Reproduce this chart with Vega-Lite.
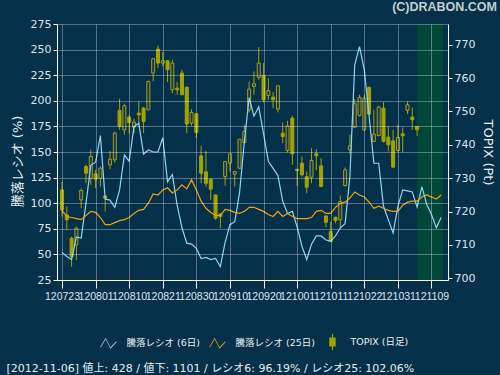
{
  "$schema": "https://vega.github.io/schema/vega-lite/v6.json",
  "width": 391,
  "height": 256,
  "autosize": {"type": "none"},
  "padding": {"left": 57, "top": 24, "right": 52, "bottom": 95},
  "background": "#04304a",
  "title": {"text": "(C)DRABON.COM", "anchor": "end", "orient": "top", "frame": "group", "dx": 49, "dy": 10, "offset": 5, "baseline": "alphabetic", "font": "Liberation Sans", "fontSize": 12.5, "fontWeight": "bold", "color": "#c4ccd0"},
  "config": {
    "view": {"fill": "#1a3562", "stroke": null},
    "font": "DejaVu Sans, Noto Sans CJK JP",
    "axis": {
      "labelFont": "DejaVu Sans, Noto Sans CJK JP",
      "titleFont": "DejaVu Sans, Noto Sans CJK JP",
      "labelFontSize": 11,
      "labelColor": "#dde6ee",
      "domainColor": "#ffffff",
      "tickColor": "#ffffff",
      "gridColor": "#ffffff",
      "gridOpacity": 0.32,
      "titleColor": "#e6ecf0",
      "titleFontWeight": "normal",
      "titleFontSize": 13
    },
    "axisX": {"labelOverlap": false, "labelFlush": false}
  },
  "datasets": {
    "zone": [{"a": 74, "b": 79.4}],
    "legend": [{"s": "騰落レシオ (6日)"}, {"s": "騰落レシオ (25日)"}, {"s": "TOPIX (日足)"}],
    "ratio": [
      {"i":0,"r6":52,"r25":93},{"i":1,"r6":48,"r25":87},{"i":2,"r6":45,"r25":86},{"i":3,"r6":67,"r25":85},{"i":4,"r6":66,"r25":84},
      {"i":5,"r6":100,"r25":88},{"i":6,"r6":137,"r25":92},{"i":7,"r6":140,"r25":91},{"i":8,"r6":166,"r25":86},{"i":9,"r6":104,"r25":79},
      {"i":10,"r6":103,"r25":79},{"i":11,"r6":96,"r25":81},{"i":12,"r6":113,"r25":83},{"i":13,"r6":147,"r25":84},{"i":14,"r6":141,"r25":86},
      {"i":15,"r6":175,"r25":90},{"i":16,"r6":178,"r25":93},{"i":17,"r6":148,"r25":94},{"i":18,"r6":152,"r25":100},{"i":19,"r6":150,"r25":109},
      {"i":20,"r6":150,"r25":108},{"i":21,"r6":164,"r25":113},{"i":22,"r6":121,"r25":115},{"i":23,"r6":128,"r25":110},{"i":24,"r6":98,"r25":113},
      {"i":25,"r6":76,"r25":118},{"i":26,"r6":61,"r25":114},{"i":27,"r6":60,"r25":123},{"i":28,"r6":56,"r25":113},{"i":29,"r6":46,"r25":102},
      {"i":30,"r6":47,"r25":95},{"i":31,"r6":45,"r25":91},{"i":32,"r6":46,"r25":88},{"i":33,"r6":38,"r25":88},{"i":34,"r6":62,"r25":94},
      {"i":35,"r6":79,"r25":93},{"i":36,"r6":82,"r25":91},{"i":37,"r6":110,"r25":90},{"i":38,"r6":160,"r25":92},{"i":39,"r6":203,"r25":96},
      {"i":40,"r6":185,"r25":96},{"i":41,"r6":194,"r25":94},{"i":42,"r6":168,"r25":92},{"i":43,"r6":141,"r25":89},{"i":44,"r6":134,"r25":87},
      {"i":45,"r6":127,"r25":92},{"i":46,"r6":102,"r25":87},{"i":47,"r6":90,"r25":90},{"i":48,"r6":92,"r25":87},{"i":49,"r6":77,"r25":85},
      {"i":50,"r6":58,"r25":85},{"i":51,"r6":45,"r25":85},{"i":52,"r6":60,"r25":86},{"i":53,"r6":68,"r25":92},{"i":54,"r6":68,"r25":93},
      {"i":55,"r6":64,"r25":90},{"i":56,"r6":63,"r25":90},{"i":57,"r6":68,"r25":96},{"i":58,"r6":76,"r25":100},{"i":59,"r6":80,"r25":101},
      {"i":60,"r6":126,"r25":105},{"i":61,"r6":235,"r25":111},{"i":62,"r6":253,"r25":108},{"i":63,"r6":230,"r25":106},{"i":64,"r6":185,"r25":101},
      {"i":65,"r6":139,"r25":95},{"i":66,"r6":139,"r25":97},{"i":67,"r6":97,"r25":95},{"i":68,"r6":84,"r25":93},{"i":69,"r6":71,"r25":92},
      {"i":70,"r6":97,"r25":92},{"i":71,"r6":113,"r25":98},{"i":72,"r6":112,"r25":101},{"i":73,"r6":111,"r25":102},{"i":74,"r6":96.19,"r25":102.06},
      {"i":75,"r6":116,"r25":106},{"i":76,"r6":99,"r25":108},{"i":77,"r6":89,"r25":106},{"i":78,"r6":76,"r25":104},{"i":79,"r6":86,"r25":108}
    ],
    "candles": [
      {"i":0,"o":726.5,"h":729,"l":718.5,"c":720.5},{"i":1,"o":719,"h":721.5,"l":714.5,"c":717.5},{"i":2,"o":712,"h":712.5,"l":703.5,"c":706.5},
      {"i":3,"o":710,"h":715.5,"l":705.5,"c":715},{"i":4,"o":723.5,"h":727,"l":721,"c":726.3},{"i":5,"o":733.5,"h":734,"l":728.5,"c":731.5},
      {"i":6,"o":730,"h":738.5,"l":728,"c":736.5},{"i":7,"o":731.3,"h":732.5,"l":727,"c":729.7},{"i":8,"o":730,"h":733.5,"l":727.5,"c":733},
      {"i":9,"o":724.7,"h":724.7,"l":720,"c":724},{"i":10,"o":734,"h":738.2,"l":732.7,"c":735.7},{"i":11,"o":735.5,"h":744,"l":734.7,"c":743.5},
      {"i":12,"o":750.3,"h":753.8,"l":744.5,"c":745.5},{"i":13,"o":744.5,"h":752.3,"l":743,"c":751.7},{"i":14,"o":748.3,"h":749,"l":743.5,"c":746.7},
      {"i":15,"o":745.3,"h":747.8,"l":743.5,"c":746.8},{"i":16,"o":749.5,"h":753,"l":746.5,"c":749},{"i":17,"o":751,"h":751.3,"l":743.5,"c":747},
      {"i":18,"o":750.5,"h":759.2,"l":750.3,"c":759},{"i":19,"o":761.5,"h":766,"l":759,"c":765.8},{"i":20,"o":768.7,"h":769.7,"l":763,"c":764.5},
      {"i":21,"o":764.5,"h":767.8,"l":763.5,"c":765.2},{"i":22,"o":765.2,"h":765.3,"l":758.8,"c":762.5},{"i":23,"o":756.5,"h":765.5,"l":755.5,"c":764.5},
      {"i":24,"o":757,"h":758.8,"l":755,"c":756.5},{"i":25,"o":761.5,"h":762.5,"l":755,"c":755},{"i":26,"o":757.3,"h":757.3,"l":743.5,"c":746.2},
      {"i":27,"o":746.5,"h":750.7,"l":745.7,"c":749.7},{"i":28,"o":749.3,"h":749.3,"l":742,"c":743.7},{"i":29,"o":736.7,"h":739.7,"l":728.5,"c":731.5},
      {"i":30,"o":731.9,"h":738.2,"l":727.5,"c":728.5},{"i":31,"o":729.7,"h":729.7,"l":723.5,"c":726.7},{"i":32,"o":725,"h":725,"l":717.5,"c":718},
      {"i":33,"o":719.3,"h":719.5,"l":715,"c":718.5},{"i":34,"o":730.5,"h":735,"l":727.8,"c":735},{"i":35,"o":734.5,"h":737.3,"l":732,"c":737.3},
      {"i":36,"o":731.2,"h":732,"l":727.5,"c":732},{"i":37,"o":733,"h":741.7,"l":732.7,"c":741.7},{"i":38,"o":740.7,"h":746,"l":740.5,"c":744},
      {"i":39,"o":750.5,"h":759,"l":749.7,"c":756.7},{"i":40,"o":757.5,"h":762,"l":755,"c":758.3},{"i":41,"o":760.2,"h":769.3,"l":759.5,"c":764.5},
      {"i":42,"o":760.7,"h":764.5,"l":752.7,"c":753.5},{"i":43,"o":754.8,"h":760,"l":753.5,"c":756.2},{"i":44,"o":754.3,"h":755.8,"l":751,"c":753.5},
      {"i":45,"o":750.7,"h":757.7,"l":749.7,"c":757.7},{"i":46,"o":743.5,"h":746.7,"l":740.5,"c":742.5},{"i":47,"o":738.3,"h":747.2,"l":737.7,"c":745.7},
      {"i":48,"o":748,"h":748.7,"l":734,"c":737.3},{"i":49,"o":732.7,"h":732.7,"l":727.7,"c":732.3},{"i":50,"o":734.5,"h":736.5,"l":730.5,"c":731},
      {"i":51,"o":730.5,"h":732,"l":725.5,"c":727.3},{"i":52,"o":730.3,"h":739,"l":728.5,"c":735.3},{"i":53,"o":737.3,"h":738.7,"l":732.5,"c":736.7},
      {"i":54,"o":733.7,"h":736,"l":727.3,"c":727.5},{"i":55,"o":718.7,"h":718.7,"l":715.3,"c":716.8},{"i":56,"o":714,"h":717,"l":711,"c":711},
      {"i":57,"o":718.3,"h":718.5,"l":716.5,"c":717.3},{"i":58,"o":717.5,"h":724.8,"l":715,"c":723},{"i":59,"o":727.8,"h":733.2,"l":727.5,"c":732.5},
      {"i":60,"o":738.5,"h":743,"l":737.3,"c":739.7},{"i":61,"o":745.3,"h":753.7,"l":745,"c":752.3},{"i":62,"o":748.8,"h":755,"l":748.5,"c":754.2},
      {"i":63,"o":744.5,"h":755,"l":744,"c":754},{"i":64,"o":757.2,"h":757.5,"l":749,"c":749.2},{"i":65,"o":741,"h":750.5,"l":741,"c":743.2},
      {"i":66,"o":742.8,"h":751.7,"l":742.5,"c":751.3},{"i":67,"o":751,"h":752.8,"l":740.7,"c":741},{"i":68,"o":742.3,"h":745.5,"l":738,"c":740},
      {"i":69,"o":741.2,"h":744.5,"l":733.3,"c":733.3},{"i":70,"o":738.3,"h":746,"l":738,"c":742.2},{"i":71,"o":743.3,"h":745.2,"l":737.7,"c":742.7},
      {"i":72,"o":750.3,"h":753,"l":749.3,"c":752},{"i":73,"o":748.3,"h":751.2,"l":744.5,"c":747.5},{"i":74,"o":745.5,"h":745.5,"l":742.7,"c":744.5}
    ]
  },
  "layer": [
    {
      "data": {"name": "zone"},
      "mark": {"type": "rect", "color": "#00473a"},
      "encoding": {
        "x": {"field": "a", "type": "quantitative", "scale": {"domain": [0, 79.4], "nice": false, "zero": false},
          "axis": {
            "values": [0, 7, 14, 21, 28, 35, 42, 49, 56, 63, 70, 77], "tickCount": 30,
            "labelExpr": "['120723','120801','120810','120821','120830','120910','120920','121001','121011','121022','121031','121109'][round(datum.value/7)]",
            "grid": true, "zindex": 1, "tickSize": 8, "labelPadding": 3, "labelFont": "Liberation Sans", "labelFontSize": 10.5, "labelFlush": false, "labelOverlap": false,
            "title": "[2012-11-06]  値上: 428 / 値下: 1101 / レシオ6: 96.19% / レシオ25: 102.06%",
            "titleX": -51, "titleY": 91, "titleAlign": "left", "titleBaseline": "alphabetic", "titleFontSize": 11, "titleColor": "#e6ecf0"
          }
        },
        "x2": {"field": "b"}
      }
    },
    {
      "data": {"name": "candles"},
      "layer": [
        {
          "mark": {"type": "rule", "color": "#a3a300", "strokeWidth": 1},
          "encoding": {
            "x": {"field": "i", "type": "quantitative", "scale": {"domain": [0, 79.4], "nice": false, "zero": false}},
            "y": {"field": "l", "type": "quantitative", "scale": {"domain": [699.5, 776.2], "nice": false, "zero": false},
              "axis": {"orient": "right", "values": [700, 710, 720, 730, 740, 750, 760, 770], "tickCount": 30, "grid": false, "tickSize": 4, "labelPadding": 2,
                "title": "TOPIX (Pt)", "titleAngle": 90, "titleX": 39, "titleY": 128, "titleAlign": "center", "titleBaseline": "middle"}},
            "y2": {"field": "h"}
          }
        },
        {
          "mark": {"type": "bar", "size": 3, "stroke": "#a3a300", "strokeWidth": 1},
          "encoding": {
            "x": {"field": "i", "type": "quantitative", "scale": {"domain": [0, 79.4], "nice": false, "zero": false}},
            "y": {"field": "o", "type": "quantitative"},
            "y2": {"field": "c"},
            "fill": {"condition": {"test": "datum.c > datum.o", "value": "#1a3562"}, "value": "#a3a300"}
          }
        }
      ]
    },
    {
      "data": {"name": "ratio"},
      "layer": [
        {
          "mark": {"type": "line", "color": "#8fd3f4", "strokeWidth": 1.2},
          "encoding": {
            "x": {"field": "i", "type": "quantitative", "scale": {"domain": [0, 79.4], "nice": false, "zero": false}},
            "y": {"field": "r6", "type": "quantitative", "scale": {"domain": [25, 275], "nice": false, "zero": false},
              "axis": {"orient": "left", "values": [25, 50, 75, 100, 125, 150, 175, 200, 225, 250, 275], "tickCount": 30, "grid": true, "zindex": 1, "tickSize": 4, "labelPadding": 2,
                "title": "騰落レシオ (%)", "titleAngle": -90, "titleX": -40, "titleY": 137, "titleAlign": "center", "titleBaseline": "middle"}}
          }
        },
        {
          "mark": {"type": "line", "color": "#f5a20a", "strokeWidth": 1.2},
          "encoding": {
            "x": {"field": "i", "type": "quantitative", "scale": {"domain": [0, 79.4], "nice": false, "zero": false}},
            "y": {"field": "r25", "type": "quantitative"}
          }
        },
        {
          "data": {"name": "legend"},
          "mark": {"type": "point", "filled": true, "opacity": 0},
          "encoding": {
            "color": {"field": "s", "type": "nominal",
              "scale": {"domain": ["騰落レシオ (6日)", "騰落レシオ (25日)", "TOPIX (日足)"], "range": ["#8fd3f4", "#f5a20a", "#a3a300"]},
              "legend": {"title": null, "orient": "none", "legendX": 43.5, "legendY": 310, "direction": "horizontal", "labelFontSize": 9.5, "labelColor": "#e8eef2", "labelFont": "DejaVu Sans, Noto Sans CJK JP", "symbolSize": 256, "symbolOpacity": 1, "symbolStrokeWidth": 0, "labelOffset": 10, "columnPadding": 9, "padding": 0}},
            "shape": {"field": "s", "type": "nominal",
              "scale": {"domain": ["騰落レシオ (6日)", "騰落レシオ (25日)", "TOPIX (日足)"], "range": [
                "M-1,0.41 L-0.35,-0.69 L0.25,0.51 L1,-0.29 L1,-0.11 L0.25,0.69 L-0.35,-0.51 L-1,0.59 Z",
                "M-1,0.41 L-0.35,-0.69 L0.25,0.51 L1,-0.29 L1,-0.11 L0.25,0.69 L-0.35,-0.51 L-1,0.59 Z",
                "M-0.07,-1 L0.07,-1 L0.07,-0.55 L0.4,-0.55 L0.4,0.55 L0.07,0.55 L0.07,1 L-0.07,1 L-0.07,0.55 L-0.4,0.55 L-0.4,-0.55 L-0.07,-0.55 Z"]},
              "legend": {"title": null, "orient": "none", "legendX": 43.5, "legendY": 310, "direction": "horizontal", "labelFontSize": 9.5, "labelColor": "#e8eef2", "labelFont": "DejaVu Sans, Noto Sans CJK JP", "symbolSize": 256, "symbolOpacity": 1, "symbolStrokeWidth": 0, "labelOffset": 10, "columnPadding": 9, "padding": 0}}
          }
        }
      ]
    }
  ],
  "resolve": {"scale": {"y": "independent"}}
}
